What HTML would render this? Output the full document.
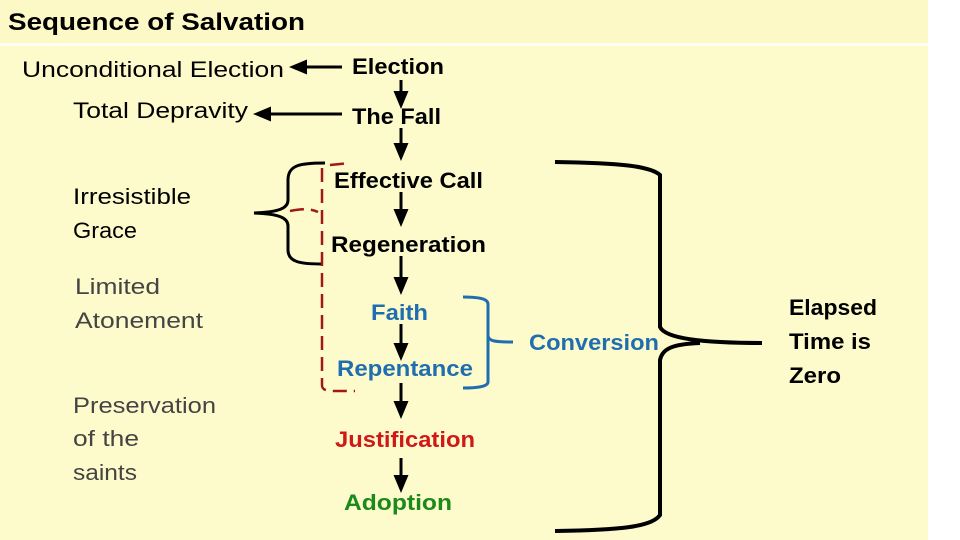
<!DOCTYPE html>
<html><head><meta charset="utf-8"><style>
html,body{margin:0;padding:0;background:#fff}
svg{display:block}
text{font-family:"Liberation Sans",sans-serif}
</style></head><body>
<svg width="960" height="540" viewBox="0 0 960 540" xmlns="http://www.w3.org/2000/svg">
<defs>
<marker id="ah" markerWidth="6" markerHeight="6" refX="3" refY="3" orient="auto" markerUnits="strokeWidth"><path d="M0,0.5 L6,3 L0,5.5 z" fill="#000"/></marker>
</defs>
<rect x="0" y="0" width="928" height="540" fill="#fdfbcb"/>
<rect x="0" y="0" width="928" height="43" fill="#fcf9c6"/>
<rect x="0" y="43" width="928" height="3" fill="#fffef0"/>
<text x="8" y="30" font-size="24" font-weight="bold" fill="#000" textLength="297" lengthAdjust="spacingAndGlyphs">Sequence of Salvation</text>

<g font-size="22" fill="#000">
<text x="22" y="77" textLength="262" lengthAdjust="spacingAndGlyphs">Unconditional  Election</text>
<text x="73" y="118" textLength="175" lengthAdjust="spacingAndGlyphs">Total Depravity</text>
<text x="73" y="204" textLength="118" lengthAdjust="spacingAndGlyphs">Irresistible</text>
<text x="73" y="238" textLength="64" lengthAdjust="spacingAndGlyphs">Grace</text>
</g>
<g font-size="22" fill="#444">
<text x="75" y="294" textLength="85" lengthAdjust="spacingAndGlyphs">Limited</text>
<text x="75" y="328" textLength="128" lengthAdjust="spacingAndGlyphs">Atonement</text>
<text x="73" y="413" textLength="143" lengthAdjust="spacingAndGlyphs">Preservation</text>
<text x="73" y="446" textLength="66" lengthAdjust="spacingAndGlyphs">of the</text>
<text x="73" y="480" textLength="64" lengthAdjust="spacingAndGlyphs">saints</text>
</g>

<g font-size="22" font-weight="bold">
<text x="352" y="74" fill="#000" textLength="92" lengthAdjust="spacingAndGlyphs">Election</text>
<text x="352" y="124" fill="#000" textLength="89" lengthAdjust="spacingAndGlyphs">The Fall</text>
<text x="334" y="188" fill="#000" textLength="149" lengthAdjust="spacingAndGlyphs">Effective Call</text>
<text x="331" y="252" fill="#000" textLength="155" lengthAdjust="spacingAndGlyphs">Regeneration</text>
<text x="371" y="320" fill="#1f6fb0" textLength="57" lengthAdjust="spacingAndGlyphs">Faith</text>
<text x="337" y="376" fill="#1f6fb0" textLength="136" lengthAdjust="spacingAndGlyphs">Repentance</text>
<text x="335" y="447" fill="#d01818" textLength="140" lengthAdjust="spacingAndGlyphs">Justification</text>
<text x="344" y="510" fill="#1a8a1a" textLength="108" lengthAdjust="spacingAndGlyphs">Adoption</text>
<text x="529" y="350" fill="#1f6fb0" textLength="130" lengthAdjust="spacingAndGlyphs">Conversion</text>
<text x="789" y="315" fill="#000" textLength="88" lengthAdjust="spacingAndGlyphs">Elapsed</text>
<text x="789" y="349" fill="#000" textLength="82" lengthAdjust="spacingAndGlyphs">Time is</text>
<text x="789" y="383" fill="#000" textLength="52" lengthAdjust="spacingAndGlyphs">Zero</text>
</g>

<g stroke="#000" stroke-width="3" fill="none">
<line x1="342" y1="67" x2="298" y2="67" marker-end="url(#ah)"/>
<line x1="342" y1="114" x2="262" y2="114" marker-end="url(#ah)"/>
<line x1="401" y1="80" x2="401" y2="100" marker-end="url(#ah)"/>
<line x1="401" y1="128" x2="401" y2="152" marker-end="url(#ah)"/>
<line x1="401" y1="192" x2="401" y2="218" marker-end="url(#ah)"/>
<line x1="401" y1="256" x2="401" y2="286" marker-end="url(#ah)"/>
<line x1="401" y1="324" x2="401" y2="352" marker-end="url(#ah)"/>
<line x1="401" y1="383" x2="401" y2="410" marker-end="url(#ah)"/>
<line x1="401" y1="458" x2="401" y2="484" marker-end="url(#ah)"/>
<path d="M325,163 C300,163 288,165 288,180 L288,200 C288,208 280,212 254,213 C280,214 288,218 288,226 L288,250 C288,262 300,264 322,264"/>
<path d="M555,162 C620,163 650,166 660,175 L660,327 C665,338 700,343 762,343 M700,343 C670,344 662,350 660,360 L660,515 C652,527 620,530 555,531" stroke-width="4"/>
</g>
<path d="M330,165 L350,163 M322,168 L322,248 L322,385 C322,389 324,390 330,391 L355,391 M290,211 C300,209 310,208 318,212" stroke="#a01818" stroke-width="2.5" fill="none" stroke-dasharray="14,7"/>
<path d="M463,297 C475,297 488,298 488,304 L488,336 C489,341 494,342 513,342 M488,336 C488,343 488,345 488,348 L488,382 C488,387 475,388 463,388" stroke="#1f6fb0" stroke-width="3" fill="none"/>
</svg>
</body></html>
